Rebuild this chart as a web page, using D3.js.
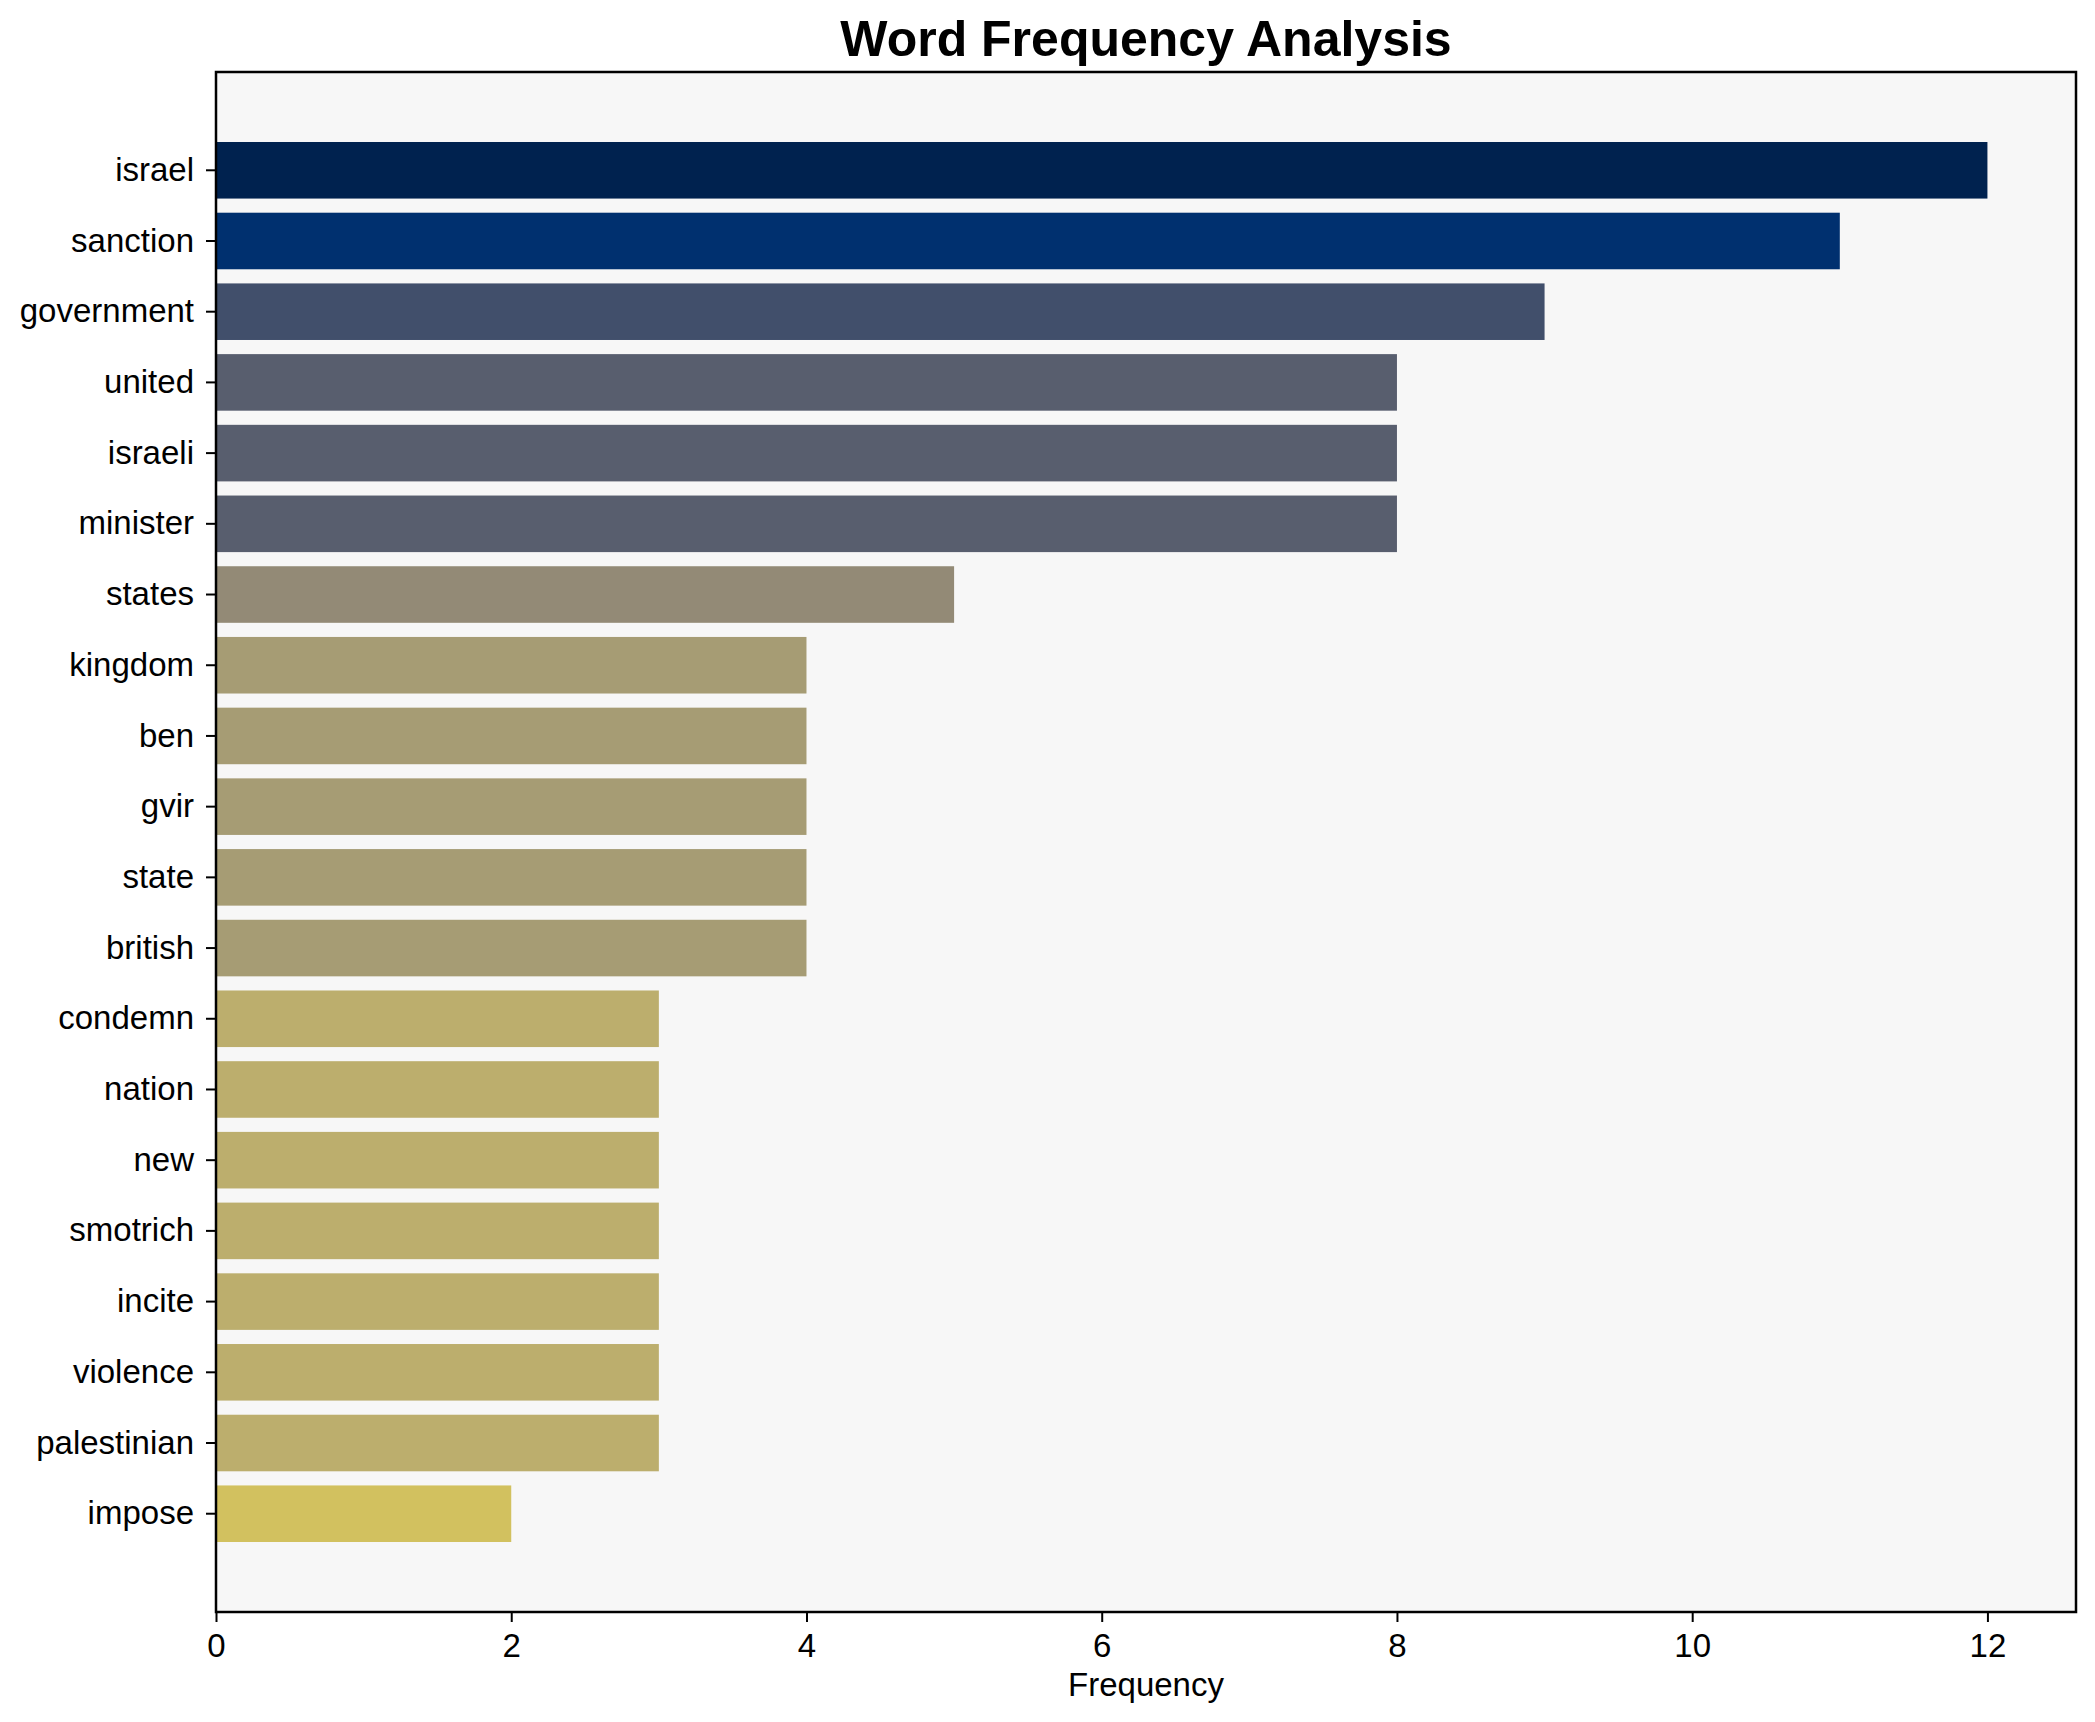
<!DOCTYPE html>
<html>
<head>
<meta charset="utf-8">
<script src="https://cdn.jsdelivr.net/npm/d3@7"></script>
<style>
  body { margin: 0; background: #ffffff; }
  text { font-family: "Liberation Sans", Arial, sans-serif; }
</style>
</head>
<body>
<svg id="chart"></svg>
<script>
// word counts, top to bottom
const words = ["israel", "sanction", "government", "united", "israeli", "minister", "states",
    "kingdom", "ben", "gvir", "state", "british", "condemn", "nation", "new", "smotrich",
    "incite", "violence", "palestinian", "impose"];
const counts = [12, 11, 9, 8, 8, 8, 5, 4, 4, 4, 4, 4, 3, 3, 3, 3, 3, 3, 3, 2];
const xTicks = [0, 2, 4, 6, 8, 10, 12];

const width = 2095;
const height = 1722;
const margin = { top: 72, right: 19, bottom: 110, left: 216 };

const svg = d3.select("#chart")
    .attr("width", width)
    .attr("height", height);

// axes background
svg.append("rect")
    .attr("x", margin.left)
    .attr("y", margin.top)
    .attr("width", width - margin.left - margin.right)
    .attr("height", height - margin.top - margin.bottom)
    .attr("fill", "#f7f7f7");

const x = d3.scaleLinear()
    .domain([0, 12.6])
    .range([margin.left, width - margin.right]);

const y = d3.scaleBand()
    .domain(words)
    .range([margin.top, height - margin.bottom])
    .paddingInner(0.2)
    .paddingOuter(0.99);

// cividis-like colours by frequency
const color = d3.scaleOrdinal()
    .domain([12, 11, 9, 8, 5, 4, 3, 2])
    .range(["#00224f", "#00306f", "#414f6b", "#585e6e", "#938a76", "#a69c74", "#bcae6d", "#d2c15f"]);

svg.append("g")
    .selectAll("rect")
    .data(words)
    .enter().append("rect")
    .attr("x", x(0))
    .attr("y", d => y(d))
    .attr("width", (d, i) => x(counts[i]) - x(0))
    .attr("height", y.bandwidth())
    .attr("fill", (d, i) => color(counts[i]));

// x axis
const xAxis = svg.append("g")
    .attr("transform", `translate(0,${height - margin.bottom})`)
    .call(d3.axisBottom(x).tickValues(xTicks).tickSize(10).tickPadding(12));

// y axis
const yAxis = svg.append("g")
    .attr("transform", `translate(${margin.left},0)`)
    .call(d3.axisLeft(y).tickSize(10).tickPadding(12));

[xAxis, yAxis].forEach(a => {
    a.select(".domain").remove();
    a.selectAll(".tick line").attr("stroke", "#000").attr("stroke-width", 2);
    a.selectAll(".tick text")
        .attr("fill", "#000")
        .style("font-size", "33px")
        .style("font-family", "'Liberation Sans', Arial, sans-serif");
});

// frame
svg.append("rect")
    .attr("x", margin.left)
    .attr("y", margin.top)
    .attr("width", width - margin.left - margin.right)
    .attr("height", height - margin.top - margin.bottom)
    .attr("fill", "none")
    .attr("stroke", "#000")
    .attr("stroke-width", 2.5);

svg.append("text")
    .attr("x", (margin.left + width - margin.right) / 2)
    .attr("y", 1696)
    .attr("text-anchor", "middle")
    .style("font-size", "33px")
    .text("Frequency");

svg.append("text")
    .attr("x", (margin.left + width - margin.right) / 2)
    .attr("y", 56)
    .attr("text-anchor", "middle")
    .style("font-size", "50px")
    .style("font-weight", "bold")
    .text("Word Frequency Analysis");
</script>
</body>
</html>
